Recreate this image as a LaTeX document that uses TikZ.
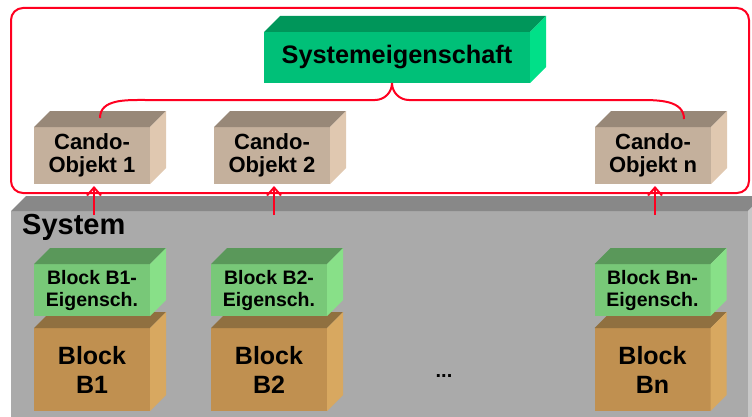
\documentclass[tikz,border=0pt]{standalone}
\usepackage{fontspec}
\setmainfont{Liberation Sans}
\usetikzlibrary{positioning,arrows.meta}

\definecolor{rot}{RGB}{255,0,32}
\definecolor{propfront}{RGB}{0,192,120}
\definecolor{proptop}{RGB}{0,150,90}
\definecolor{propside}{RGB}{0,224,136}
\definecolor{candofront}{RGB}{196,176,156}
\definecolor{candotop}{RGB}{152,136,120}
\definecolor{candoside}{RGB}{224,200,176}
\definecolor{eigenfront}{RGB}{120,200,120}
\definecolor{eigentop}{RGB}{90,152,90}
\definecolor{eigenside}{RGB}{136,224,136}
\definecolor{blockfront}{RGB}{192,144,80}
\definecolor{blocktop}{RGB}{144,112,64}
\definecolor{blockside}{RGB}{216,168,96}
\definecolor{sysfront}{RGB}{170,170,170}
\definecolor{systop}{RGB}{136,136,136}
\definecolor{sysside}{RGB}{200,200,200}

% top and side face of a box, drawn behind the front node
\newcommand{\quader}[4][16]{%
  \fill[#3] (#2.north west) -- ++(#1,#1) -- ([shift={(#1,#1)}]#2.north east) -- (#2.north east) -- cycle;
  \fill[#4] (#2.north east) -- ++(#1,#1) -- ([shift={(#1,#1)}]#2.south east) -- (#2.south east) -- cycle;}

\tikzset{
  face/.style={draw=none, minimum width=116pt, align=center, inner sep=0pt, outer sep=0pt},
  prop/.style={face, fill=propfront, minimum width=266pt, minimum height=51pt, font=\fontsize{25.3}{27}\selectfont\bfseries},
  cando/.style={face, fill=candofront, minimum height=57pt, font=\fontsize{22}{23}\selectfont\bfseries},
  eigen/.style={face, fill=eigenfront, minimum height=52pt, font=\fontsize{19.5}{22}\selectfont\bfseries},
  block/.style={face, fill=blockfront, minimum height=83pt, font=\fontsize{25}{29}\selectfont\bfseries},
  rahmen/.style={draw=rot, line width=2pt, rounded corners=12pt},
  klammer/.style={draw=rot, line width=2pt},
  pfeil/.style={draw=rot, line width=2pt, -{Straight Barb[length=8pt,width=14pt]}},
}

\begin{document}
\begin{tikzpicture}[x=1pt, y=1pt]
\clip (0,0) rectangle (752,416);

% System
\node[face, fill=sysfront, minimum width=737pt, minimum height=209pt] (sys) at (379.5,100.5) {};
\quader[15]{sys}{systop}{sysside}
\node[anchor=base west, inner sep=0pt, font=\fontsize{29}{32}\selectfont\bfseries] (syslabel) at (22,182) {System};

% Cando-Objekte
\draw[rahmen] (11,223) rectangle (749,408);

\node[prop] (prop) at (397,358.5) {Systemeigenschaft};
\quader{prop}{proptop}{propside}

\node[cando] (c1) at (92,260.5) {Cando-\\Objekt 1};
\quader{c1}{candotop}{candoside}
\node[cando] (c2) at (272,260.5) {Cando-\\Objekt 2};
\quader{c2}{candotop}{candoside}
\node[cando] (cn) at (653,260.5) {Cando-\\Objekt n};
\quader{cn}{candotop}{candoside}

\draw[klammer] ([shift={(8,9)}]c1.north) to[out=90,in=180] (145,316) -- (375,316)
  to[out=0,in=-90] ([xshift=-5pt]prop.south) to[out=-90,in=180] (409,316) -- (640,316)
  to[out=0,in=90] ([shift={(31,8)}]cn.north);

% Bloecke
\node[block] (b1) at (92,46.5) {Block\\B1};
\quader{b1}{blocktop}{blockside}
\node[eigen, above=12pt of b1] (e1) {Block B1-\\Eigensch.};
\quader{e1}{eigentop}{eigenside}

\node[block] (b2) at (269,46.5) {Block\\B2};
\quader{b2}{blocktop}{blockside}
\node[eigen, above=12pt of b2] (e2) {Block B2-\\Eigensch.};
\quader{e2}{eigentop}{eigenside}

\node[block] (bn) at (652.5,46.5) {Block\\Bn};
\quader{bn}{blocktop}{blockside}
\node[eigen, above=12pt of bn] (en) {Block Bn-\\Eigensch.};
\quader{en}{eigentop}{eigenside}

\node[font=\fontsize{20}{22}\selectfont\bfseries] (dots) at (444,40) {...};

\draw[pfeil] ([shift={(2,-31)}]c1.south) -- ([shift={(2,-2)}]c1.south);
\draw[pfeil] ([shift={(2,-31)}]c2.south) -- ([shift={(2,-2)}]c2.south);
\draw[pfeil] ([shift={(2,-31)}]cn.south) -- ([shift={(2,-2)}]cn.south);
\end{tikzpicture}
\end{document}
